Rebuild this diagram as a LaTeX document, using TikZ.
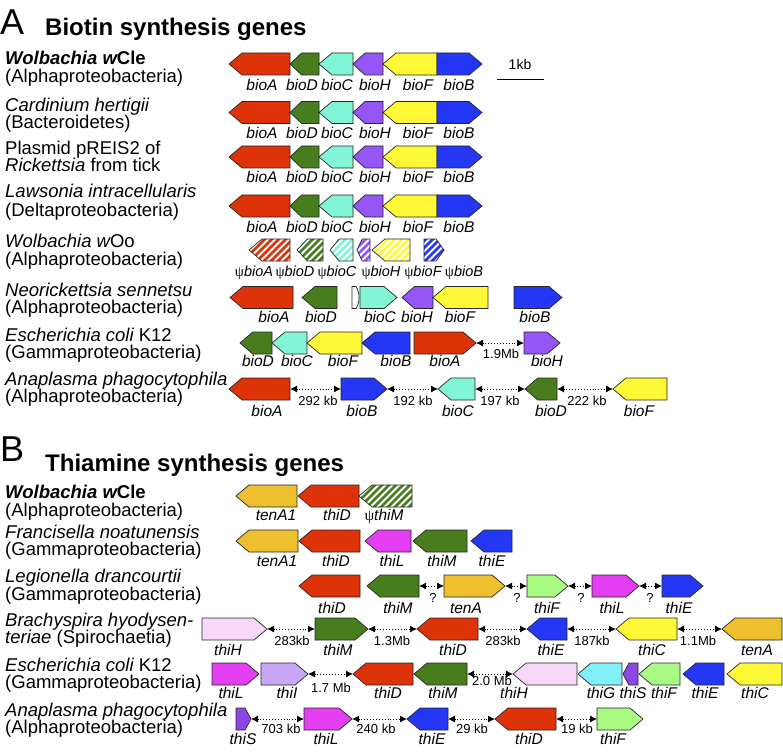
\documentclass[tikz,border=0pt]{standalone}
\usepackage{fontspec}
\setmainfont{Liberation Sans}
\newfontfamily\psifont{Liberation Serif}
\usetikzlibrary{arrows.meta}
\definecolor{cred}{RGB}{222,50,8}
\definecolor{cgreen}{RGB}{72,125,30}
\definecolor{cteal}{RGB}{130,245,215}
\definecolor{cpurp}{RGB}{150,85,245}
\definecolor{cyell}{RGB}{255,248,55}
\definecolor{cblue}{RGB}{35,55,245}
\definecolor{cgold}{RGB}{238,192,48}
\definecolor{cmag}{RGB}{228,62,242}
\definecolor{clgreen}{RGB}{168,250,130}
\definecolor{cpink}{RGB}{247,216,250}
\definecolor{clav}{RGB}{200,168,246}
\definecolor{ccyan}{RGB}{128,240,250}
\definecolor{cspurp}{RGB}{140,70,230}
\newcommand\ps{{\psifont\upshape ψ}}
\tikzset{
  gene/.style={draw=black!85, line width=0.7pt, line join=miter},
  glab/.style={font=\fontsize{15.5}{16}\selectfont\itshape, inner sep=0pt, anchor=base},
  plab/.style={font=\fontsize{14.5}{15}\selectfont\itshape, inner sep=0pt, anchor=base},
  dlab/.style={font=\fontsize{13}{14}\selectfont, inner sep=0pt, anchor=base},
  sp/.style={font=\fontsize{18.5}{18}\selectfont, inner sep=0pt, anchor=base west},
  ttl/.style={font=\fontsize{24}{26}\selectfont\bfseries, inner sep=0pt, anchor=base west},
  pnl/.style={font=\fontsize{36}{38}\selectfont, inner sep=0pt, anchor=base west},
  dist/.style={dotted, line width=0.9pt, {Latex[length=7pt,width=7pt]}-{Latex[length=7pt,width=7pt]}},
}
% right-pointing gene: name, x1, x2(tip), yc, colour
\newcommand\geneR[5]{%
  \pgfmathsetmacro\hl{min(13,0.4*(#3-#2))}%
  \draw[gene,fill=#5] (#2,#4-11) -- ({#3-\hl},#4-11) -- (#3,#4) -- ({#3-\hl},#4+11) -- (#2,#4+11) -- cycle;
  \coordinate (#1-l) at (#2,#4);\coordinate (#1-r) at (#3,#4);}
% left-pointing gene: name, x1(tip), x2, yc, colour
\newcommand\geneL[5]{%
  \pgfmathsetmacro\hl{min(13,0.4*(#3-#2))}%
  \draw[gene,fill=#5] (#3,#4-11) -- ({#2+\hl},#4-11) -- (#2,#4) -- ({#2+\hl},#4+11) -- (#3,#4+11) -- cycle;
  \coordinate (#1-l) at (#2,#4);\coordinate (#1-r) at (#3,#4);}
% hatched left-pointing gene
\newcommand\geneHL[5]{%
  \pgfmathsetmacro\hl{min(13,0.4*(#3-#2))}%
  \begin{scope}
  \clip (#3,#4-11) -- ({#2+\hl},#4-11) -- (#2,#4) -- ({#2+\hl},#4+11) -- (#3,#4+11) -- cycle;
  \fill[white] (#2,#4-11) rectangle (#3,#4+11);
  \foreach \k in {-28,-21,...,70} \draw[#5, line width=2.6pt] ({#2+\k},#4+12) -- ++(24,-24);
  \end{scope}
  \draw[gene] (#3,#4-11) -- ({#2+\hl},#4-11) -- (#2,#4) -- ({#2+\hl},#4+11) -- (#3,#4+11) -- cycle;
  \coordinate (#1-l) at (#2,#4);\coordinate (#1-r) at (#3,#4);}
% hatched right-pointing gene
\newcommand\geneHR[5]{%
  \pgfmathsetmacro\hl{min(13,0.4*(#3-#2))}%
  \begin{scope}
  \clip (#2,#4-11) -- ({#3-\hl},#4-11) -- (#3,#4) -- ({#3-\hl},#4+11) -- (#2,#4+11) -- cycle;
  \fill[white] (#2,#4-11) rectangle (#3,#4+11);
  \foreach \k in {-28,-21,...,70} \draw[#5, line width=2.6pt] ({#2+\k},#4+12) -- ++(24,-24);
  \end{scope}
  \draw[gene] (#2,#4-11) -- ({#3-\hl},#4-11) -- (#3,#4) -- ({#3-\hl},#4+11) -- (#2,#4+11) -- cycle;
  \coordinate (#1-l) at (#2,#4);\coordinate (#1-r) at (#3,#4);}
\begin{document}
\begin{tikzpicture}[x=1pt,y=-1pt]
\useasboundingbox (0,0) rectangle (783,751);
\fill[white] (0,0) rectangle (783,751);
% ---------------- Panel A ----------------
\node[pnl] (pA) at (0,35) {A};
\node[ttl] (tA) at (45,36) {Biotin synthesis genes};
% species labels
\node[sp] (s1a) at (5,65) {\bfseries\itshape Wolbachia w\upshape Cle};
\node[sp] (s1b) at (5,83) {(Alphaproteobacteria)};
\node[sp] (s2a) at (5,112) {\itshape Cardinium hertigii};
\node[sp] (s2b) at (5,129) {(Bacteroidetes)};
\node[sp] (s3a) at (5,155) {Plasmid pREIS2 of};
\node[sp] (s3b) at (5,172) {\itshape Rickettsia\upshape{} from tick};
\node[sp] (s4a) at (5,198) {\itshape Lawsonia intracellularis};
\node[sp] (s4b) at (5,216) {(Deltaproteobacteria)};
\node[sp] (s5a) at (5,247) {\itshape Wolbachia w\upshape Oo};
\node[sp] (s5b) at (5,265) {(Alphaproteobacteria)};
\node[sp] (s6a) at (5,296) {\itshape Neorickettsia sennetsu};
\node[sp] (s6b) at (5,313) {(Alphaproteobacteria)};
\node[sp] (s7a) at (5,341) {\itshape Escherichia coli\upshape{} K12};
\node[sp] (s7b) at (5,358) {(Gammaproteobacteria)};
\node[sp] (s8a) at (5,385) {\itshape Anaplasma phagocytophila};
\node[sp] (s8b) at (5,402) {(Alphaproteobacteria)};
% scale bar
\coordinate (sbl) at (497,79); \coordinate (sbr) at (544,79);
\draw[line width=0.8pt] (sbl) -- (sbr);
\node[dlab, font=\fontsize{14}{15}\selectfont] (sbt) at (520,70) {1kb};
% rows 1-4 identical operons
\foreach \r/\yc/\yl in {1/64/91, 2/112.5/139, 3/157/183, 4/206/232}{
  \geneL{a\r A}{229}{290}{\yc}{cred}
  \geneL{a\r D}{290}{319}{\yc}{cgreen}
  \geneL{a\r C}{319}{353}{\yc}{cteal}
  \geneL{a\r H}{353}{383}{\yc}{cpurp}
  \geneL{a\r F}{383}{437}{\yc}{cyell}
  \geneR{a\r B}{437}{482}{\yc}{cblue}
  \node[glab] (la\r A) at (262,\yl) {bioA};
  \node[glab] (la\r D) at (302,\yl) {bioD};
  \node[glab] (la\r C) at (337,\yl) {bioC};
  \node[glab] (la\r H) at (375,\yl) {bioH};
  \node[glab] (la\r F) at (418,\yl) {bioF};
  \node[glab] (la\r B) at (459,\yl) {bioB};
}
% row 5 wOo (pseudogenes)
\geneHL{a5A}{249}{290}{250}{cred}
\geneHL{a5D}{297}{323}{250}{cgreen}
\geneHL{a5C}{330}{353}{250}{cteal}
\geneHL{a5H}{357}{370}{250}{cpurp}
\geneHL{a5F}{372}{410}{250}{cyell}
\geneHR{a5B}{424}{444}{250}{cblue}
\node[plab] (la5A) at (254,276) {\ps bioA};
\node[plab] (la5D) at (295,276) {\ps bioD};
\node[plab] (la5C) at (337,276) {\ps bioC};
\node[plab] (la5H) at (381,276) {\ps bioH};
\node[plab] (la5F) at (423,276) {\ps bioF};
\node[plab] (la5B) at (464,276) {\ps bioB};
% row 6 Neorickettsia
\geneL{a6A}{230}{293}{297.5}{cred}
\geneL{a6D}{302}{337}{297.5}{cgreen}
\draw[gene,fill=white] (352,286.5) -- (356,286.5) .. controls (360,292) and (360,303) .. (356,308.5) -- (352,308.5) -- cycle;
\geneR{a6C}{360}{397}{297.5}{cteal}
\geneL{a6H}{402}{433}{297.5}{cpurp}
\geneL{a6F}{433}{488}{297.5}{cyell}
\geneR{a6B}{514}{562}{297.5}{cblue}
\node[glab] (la6A) at (274,322) {bioA};
\node[glab] (la6D) at (321,322) {bioD};
\node[glab] (la6C) at (380,322) {bioC};
\node[glab] (la6H) at (417,322) {bioH};
\node[glab] (la6F) at (460,322) {bioF};
\node[glab] (la6B) at (535,322) {bioB};
% row 7 E. coli
\geneL{a7D}{240}{272}{343}{cgreen}
\geneL{a7C}{272}{307}{343}{cteal}
\geneL{a7F}{307}{362}{343}{cyell}
\geneL{a7B}{362}{410}{343}{cblue}
\geneR{a7A}{414}{476}{343}{cred}
\geneR{a7H}{524}{560}{343}{cpurp}
\draw[dist] (a7A-r) -- (a7H-l);
\node[dlab] (d7) at (501,358) {1.9Mb};
\node[glab] (la7D) at (258,366) {bioD};
\node[glab] (la7C) at (297,366) {bioC};
\node[glab] (la7F) at (343,366) {bioF};
\node[glab] (la7B) at (396,366) {bioB};
\node[glab] (la7A) at (445,366) {bioA};
\node[glab] (la7H) at (547,366) {bioH};
% row 8 Anaplasma
\geneL{a8A}{229}{290}{389}{cred}
\geneR{a8B}{341}{387}{389}{cblue}
\geneL{a8C}{438}{475}{389}{cteal}
\geneL{a8D}{525}{557}{389}{cgreen}
\geneL{a8F}{613}{667}{389}{cyell}
\draw[dist] (a8A-r) -- (a8B-l);
\draw[dist] (a8B-r) -- (a8C-l);
\draw[dist] (a8C-r) -- (a8D-l);
\draw[dist] (a8D-r) -- (a8F-l);
\node[dlab] (d8a) at (318,405) {292 kb};
\node[dlab] (d8b) at (413,405) {192 kb};
\node[dlab] (d8c) at (500,405) {197 kb};
\node[dlab] (d8d) at (587,405) {222 kb};
\node[glab] (la8A) at (267,416) {bioA};
\node[glab] (la8B) at (362,416) {bioB};
\node[glab] (la8C) at (458,416) {bioC};
\node[glab] (la8D) at (551,416) {bioD};
\node[glab] (la8F) at (639,416) {bioF};
% ---------------- Panel B ----------------
\node[pnl] (pB) at (0,461) {B};
\node[ttl] (tB) at (45,471) {Thiamine synthesis genes};
\node[sp] (t1a) at (5,498) {\bfseries\itshape Wolbachia w\upshape Cle};
\node[sp] (t1b) at (5,516) {(Alphaproteobacteria)};
\node[sp] (t2a) at (5,538) {\itshape Francisella noatunensis};
\node[sp] (t2b) at (5,555) {(Gammaproteobacteria)};
\node[sp] (t3a) at (5,582) {\itshape Legionella drancourtii};
\node[sp] (t3b) at (5,600) {(Gammaproteobacteria)};
\node[sp] (t4a) at (5,626) {\itshape Brachyspira hyodysen-};
\node[sp] (t4b) at (5,643) {\itshape teriae\upshape{} (Spirochaetia)};
\node[sp] (t5a) at (5,671) {\itshape Escherichia coli\upshape{} K12};
\node[sp] (t5b) at (5,688) {(Gammaproteobacteria)};
\node[sp] (t6a) at (5,716) {\itshape Anaplasma phagocytophila};
\node[sp] (t6b) at (5,733) {(Alphaproteobacteria)};
% B1
\geneL{b1T}{236}{297}{496}{cgold}
\geneL{b1D}{298}{359}{496}{cred}
\geneHL{b1M}{359}{412}{496}{cgreen}
\node[glab] (lb1T) at (276,520) {tenA1};
\node[glab] (lb1D) at (337,520) {thiD};
\node[glab] (lb1M) at (384,520) {\ps thiM};
% B2
\geneL{b2T}{236}{298}{541}{cgold}
\geneL{b2D}{299}{360}{541}{cred}
\geneL{b2L}{365}{411}{541}{cmag}
\geneL{b2M}{413}{467}{541}{cgreen}
\geneL{b2E}{471}{512}{541}{cblue}
\node[glab] (lb2T) at (277,566) {tenA1};
\node[glab] (lb2D) at (336,566) {thiD};
\node[glab] (lb2L) at (392,566) {thiL};
\node[glab] (lb2M) at (442,566) {thiM};
\node[glab] (lb2E) at (492,566) {thiE};
% B3
\geneL{b3D}{299}{360}{586}{cred}
\geneL{b3M}{367}{419}{586}{cgreen}
\geneR{b3T}{444}{505}{586}{cgold}
\geneR{b3F}{527}{568}{586}{clgreen}
\geneR{b3L}{592}{639}{586}{cmag}
\geneR{b3E}{662}{703}{586}{cblue}
\draw[dist] (b3M-r) -- (b3T-l);
\draw[dist] (b3T-r) -- (b3F-l);
\draw[dist] (b3F-r) -- (b3L-l);
\draw[dist] (b3L-r) -- (b3E-l);
\node[dlab] (q1) at (433,602) {?};
\node[dlab] (q2) at (517,602) {?};
\node[dlab] (q3) at (581,602) {?};
\node[dlab] (q4) at (650,602) {?};
\node[glab] (lb3D) at (332,613) {thiD};
\node[glab] (lb3M) at (398,613) {thiM};
\node[glab] (lb3T) at (466,613) {tenA};
\node[glab] (lb3F) at (547,613) {thiF};
\node[glab] (lb3L) at (612,613) {thiL};
\node[glab] (lb3E) at (679,613) {thiE};
% B4
\geneR{b4H}{202}{267}{629}{cpink}
\geneR{b4M}{315}{368}{629}{cgreen}
\geneL{b4D}{417}{478}{629}{cred}
\geneL{b4E}{527}{567}{629}{cblue}
\geneL{b4C}{616}{677}{629}{cyell}
\geneL{b4T}{722}{782}{629}{cgold}
\draw[dist] (b4H-r) -- (b4M-l);
\draw[dist] (b4M-r) -- (b4D-l);
\draw[dist] (b4D-r) -- (b4E-l);
\draw[dist] (b4E-r) -- (b4C-l);
\draw[dist] (b4C-r) -- (b4T-l);
\node[dlab] (d4a) at (292,645) {283kb};
\node[dlab] (d4b) at (392,645) {1.3Mb};
\node[dlab] (d4c) at (503,645) {283kb};
\node[dlab] (d4d) at (592,645) {187kb};
\node[dlab] (d4e) at (698,645) {1.1Mb};
\node[glab] (lb4H) at (228,655) {thiH};
\node[glab] (lb4M) at (338,655) {thiM};
\node[glab] (lb4D) at (453,655) {thiD};
\node[glab] (lb4E) at (551,655) {thiE};
\node[glab] (lb4C) at (652,655) {thiC};
\node[glab] (lb4T) at (757,655) {tenA};
% B5
\geneR{b5L}{212}{259}{674}{cmag}
\geneR{b5I}{261}{308}{674}{clav}
\geneL{b5D}{353}{413}{674}{cred}
\geneL{b5M}{414}{467}{674}{cgreen}
\geneL{b5H}{513}{577}{674}{cpink}
\geneL{b5G}{578}{622}{674}{ccyan}
\geneL{b5S}{623}{638}{674}{cspurp}
\geneL{b5F}{639}{680}{674}{clgreen}
\geneL{b5E}{683}{724}{674}{cblue}
\geneL{b5C}{727}{782}{674}{cyell}
\draw[dist] (b5I-r) -- (b5D-l);
\draw[dist] (b5M-r) -- (b5H-l);
\node[dlab] (d5a) at (331,692) {1.7 Mb};
\node[dlab] (d5b) at (492,685) {2.0 Mb};
\node[glab] (lb5L) at (231,698) {thiL};
\node[glab] (lb5I) at (287,698) {thiI};
\node[glab] (lb5D) at (388,698) {thiD};
\node[glab] (lb5M) at (443,698) {thiM};
\node[glab] (lb5H) at (514,698) {thiH};
\node[glab] (lb5G) at (601,698) {thiG};
\node[glab] (lb5S) at (633,698) {thiS};
\node[glab] (lb5F) at (664,698) {thiF};
\node[glab] (lb5E) at (705,698) {thiE};
\node[glab] (lb5C) at (755,698) {thiC};
% B6
\geneR{b6S}{236}{251}{719}{cspurp}
\geneR{b6L}{304}{352}{719}{cmag}
\geneL{b6E}{407}{448}{719}{cblue}
\geneL{b6D}{495}{556}{719}{cred}
\geneR{b6F}{597}{643}{719}{clgreen}
\draw[dist] (b6S-r) -- (b6L-l);
\draw[dist] (b6L-r) -- (b6E-l);
\draw[dist] (b6E-r) -- (b6D-l);
\draw[dist] (b6D-r) -- (b6F-l);
\node[dlab] (d6a) at (281,733) {703 kb};
\node[dlab] (d6b) at (376,733) {240 kb};
\node[dlab] (d6c) at (472,733) {29 kb};
\node[dlab] (d6d) at (577,733) {19 kb};
\node[glab] (lb6S) at (243,744) {thiS};
\node[glab] (lb6L) at (326,744) {thiL};
\node[glab] (lb6E) at (432,744) {thiE};
\node[glab] (lb6D) at (529,744) {thiD};
\node[glab] (lb6F) at (613,744) {thiF};
\end{tikzpicture}
\end{document}
